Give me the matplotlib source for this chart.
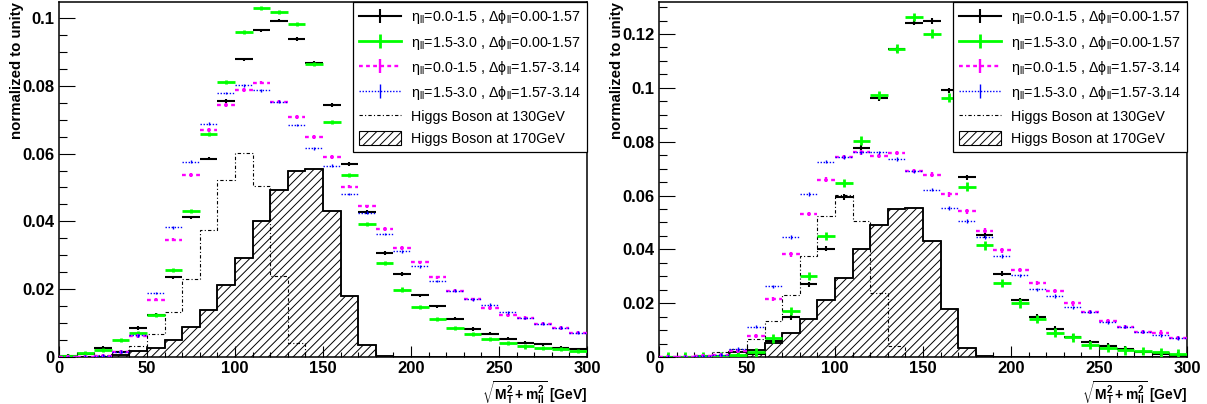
import matplotlib
matplotlib.use('Agg')
import matplotlib.pyplot as plt
import numpy as np
from matplotlib.lines import Line2D
from matplotlib.patches import Patch
from matplotlib.ticker import MultipleLocator, FuncFormatter

plt.rcParams['font.family'] = ['Liberation Sans', 'DejaVu Sans']
plt.rcParams['mathtext.fontset'] = 'custom'
plt.rcParams['mathtext.rm'] = 'Liberation Sans'
plt.rcParams['mathtext.it'] = 'Liberation Sans:italic'
plt.rcParams['mathtext.bf'] = 'Liberation Sans:bold'
plt.rcParams['mathtext.default'] = 'regular'
plt.rcParams['hatch.linewidth'] = 0.7

# bin edges in GeV
edges = np.arange(0, 310, 10)

# left panel
black_L = [0.0003, 0.0008, 0.0026, 0.0016, 0.0085, 0.0125, 0.0235, 0.0412, 0.0585, 0.0755,
           0.0878, 0.0963, 0.0992, 0.0938, 0.0868, 0.0743, 0.0569, 0.0428, 0.0307, 0.0245,
           0.0182, 0.0149, 0.0113, 0.0083, 0.0069, 0.0054, 0.0042, 0.0037, 0.0026, 0.0023]
green_L = [0.0003, 0.0011, 0.0020, 0.0049, 0.0072, 0.0124, 0.0257, 0.0431, 0.0657, 0.0812,
           0.0959, 0.1029, 0.1017, 0.0982, 0.0863, 0.0694, 0.0537, 0.0391, 0.0277, 0.0199,
           0.0147, 0.0113, 0.0086, 0.0067, 0.0054, 0.0042, 0.0031, 0.0027, 0.0023, 0.0018]
magenta_L = [0.0, 0.0001, 0.0003, 0.0015, 0.0062, 0.0169, 0.0346, 0.0537, 0.0669, 0.0743,
             0.0787, 0.0809, 0.0753, 0.0708, 0.0649, 0.0590, 0.0502, 0.0444, 0.0377, 0.0322,
             0.0279, 0.0235, 0.0196, 0.0170, 0.0144, 0.0123, 0.0115, 0.0098, 0.0086, 0.0072]
blue_L = [0.0, 0.0001, 0.0004, 0.0016, 0.0064, 0.0189, 0.0382, 0.0576, 0.0688, 0.0779,
          0.0801, 0.0786, 0.0753, 0.0684, 0.0615, 0.0564, 0.0481, 0.0426, 0.0363, 0.0312,
          0.0267, 0.0224, 0.0196, 0.0170, 0.0154, 0.0132, 0.0115, 0.0098, 0.0086, 0.0072]

# right panel
black_R = [0.0001, 0.0001, 0.0002, 0.0003, 0.0005, 0.0012, 0.0060, 0.0147, 0.0270, 0.0402,
           0.0594, 0.0776, 0.0961, 0.1143, 0.1242, 0.1248, 0.0991, 0.0668, 0.0454, 0.0310,
           0.0211, 0.0149, 0.0104, 0.0075, 0.0054, 0.0042, 0.0030, 0.0017, 0.0011, 0.0007]
green_R = [0.0001, 0.0001, 0.0002, 0.0004, 0.0007, 0.0017, 0.0069, 0.0171, 0.0301, 0.0449,
           0.0646, 0.0804, 0.0973, 0.1146, 0.1263, 0.1201, 0.0964, 0.0633, 0.0415, 0.0275,
           0.0199, 0.0141, 0.0091, 0.0073, 0.0044, 0.0034, 0.0025, 0.0023, 0.0017, 0.0013]
magenta_R = [0.0, 0.0, 0.0002, 0.0008, 0.0023, 0.0078, 0.0215, 0.0381, 0.0532, 0.0659,
             0.0742, 0.0760, 0.0746, 0.0757, 0.0690, 0.0678, 0.0604, 0.0541, 0.0470, 0.0396,
             0.0322, 0.0276, 0.0246, 0.0199, 0.0168, 0.0133, 0.0112, 0.0094, 0.0091, 0.0071]
blue_R = [0.0, 0.0, 0.0002, 0.0009, 0.0030, 0.0112, 0.0263, 0.0446, 0.0606, 0.0726,
          0.0743, 0.0760, 0.0760, 0.0736, 0.0690, 0.0622, 0.0554, 0.0505, 0.0446, 0.0375,
          0.0304, 0.0252, 0.0227, 0.0184, 0.0168, 0.0129, 0.0112, 0.0094, 0.0081, 0.0071]

# Higgs signal shapes (same in both panels)
higgs130 = [0.0, 0.0, 0.0005, 0.0017, 0.0031, 0.0068, 0.0132, 0.0230, 0.0375, 0.0523,
            0.0601, 0.0505, 0.0238, 0.0042, 0.0, 0.0, 0.0, 0.0, 0.0, 0.0,
            0.0, 0.0, 0.0, 0.0, 0.0, 0.0, 0.0, 0.0, 0.0, 0.0]
higgs170 = [0.0, 0.0, 0.0, 0.0005, 0.0017, 0.0027, 0.0051, 0.0088, 0.0140, 0.0211,
            0.0292, 0.0400, 0.0492, 0.0549, 0.0554, 0.0431, 0.0179, 0.0034, 0.0003, 0.0,
            0.0, 0.0, 0.0, 0.0, 0.0, 0.0, 0.0, 0.0, 0.0, 0.0]

labels = [r'$\eta_{ll}$=0.0-1.5 , $\Delta\phi_{ll}$=0.00-1.57',
          r'$\eta_{ll}$=1.5-3.0 , $\Delta\phi_{ll}$=0.00-1.57',
          r'$\eta_{ll}$=0.0-1.5 , $\Delta\phi_{ll}$=1.57-3.14',
          r'$\eta_{ll}$=1.5-3.0 , $\Delta\phi_{ll}$=1.57-3.14',
          'Higgs Boson at 130GeV',
          'Higgs Boson at 170GeV']

styles = [('black', 1.5, '-'),
          ('#00ff00', 2.0, '-'),
          ('#ff00ff', 1.7, (0, (1.6, 1.4))),
          ('#0000ff', 1.0, (0, (1.0, 1.2)))]

dashdot = (0, (3, 2, 1, 2))


def draw_points(ax, vals, err, color, lw, ls):
    vals = np.array(vals)
    centers = (edges[:-1] + edges[1:]) / 2
    ax.hlines(vals, edges[:-1], edges[1:], colors=color, linewidth=lw, linestyles=ls, zorder=3)
    ax.vlines(centers, vals - err, vals + err, colors=color, linewidth=lw, zorder=3)


def panel(ax, series, errs, ymax):
    ax.stairs(higgs170, edges, fill=True, facecolor='white', edgecolor='black',
              hatch='////', linewidth=1.1, zorder=1)
    ax.stairs(higgs170, edges, fill=False, edgecolor='black', linewidth=1.1, zorder=1.5)
    ax.stairs(higgs130, edges, color='black', linewidth=0.8, linestyle=dashdot, zorder=2)
    for vals, err, (c, lw, ls) in zip(series, errs, styles):
        draw_points(ax, vals, err, c, lw, ls)

    ax.set_xlim(0, 300)
    ax.set_ylim(0, ymax)
    ax.xaxis.set_major_locator(MultipleLocator(50))
    ax.xaxis.set_minor_locator(MultipleLocator(10))
    ax.yaxis.set_major_locator(MultipleLocator(0.02))
    ax.yaxis.set_minor_locator(MultipleLocator(0.005))
    ax.yaxis.set_major_formatter(FuncFormatter(lambda v, p: '%g' % round(v, 4)))
    ax.tick_params(axis='y', which='major', direction='in', length=11.5, width=0.8, pad=3,
                   labelsize=12)
    ax.tick_params(axis='y', which='minor', direction='in', length=5.8, width=0.8)
    ax.tick_params(axis='x', which='major', direction='in', length=7.7, width=0.8, pad=3,
                   labelsize=12)
    ax.tick_params(axis='x', which='minor', direction='in', length=3.8, width=0.8)
    for lab in ax.get_xticklabels() + ax.get_yticklabels():
        lab.set_fontweight('bold')
    for s in ax.spines.values():
        s.set_linewidth(1.1)

    ax.set_xlabel(r'$\mathbf{\sqrt{M_T^2+m_{ll}^2}}$ [GeV]', fontsize=10, fontweight='bold',
                  loc='right')
    ax.xaxis.set_label_coords(1.0, -0.062)
    ax.text(-0.066, 1.0, 'normalized to unity', transform=ax.transAxes, rotation=90,
            ha='right', va='top', fontsize=10.8, fontweight='bold')

    handles = []
    for c, lw, ls in styles:
        handles.append(Line2D([], [], color=c, linewidth=lw, linestyle=ls, marker='|',
                              markersize=10, markeredgewidth=lw))
    handles.append(Line2D([], [], color='black', linewidth=0.8, linestyle=dashdot))
    handles.append(Patch(facecolor='white', edgecolor='black', hatch='////', linewidth=0.8))
    leg = ax.legend(handles, labels, loc='upper right', bbox_to_anchor=(1.0, 1.0),
                    borderaxespad=0, fancybox=False, edgecolor='black', framealpha=1,
                    fontsize=10.3, handlelength=2.9, handleheight=1.1, handletextpad=0.7,
                    labelspacing=0.5, borderpad=0.45, numpoints=1)
    leg.get_frame().set_linewidth(0.9)
    leg.set_zorder(5)


fig = plt.figure(figsize=(12.07, 4.04), dpi=100)
ax1 = fig.add_axes([59 / 1207, 47 / 404, 528 / 1207, 355 / 404])
ax2 = fig.add_axes([659 / 1207, 47 / 404, 528 / 1207, 355 / 404])

panel(ax1, [black_L, green_L, magenta_L, blue_L], [0.0005, 0.0006, 0.0005, 0.0004], 0.1047)
panel(ax2, [black_R, green_R, magenta_R, blue_R], [0.0010, 0.0016, 0.0008, 0.0006], 0.1319)

fig.savefig('out.png', dpi=100)
